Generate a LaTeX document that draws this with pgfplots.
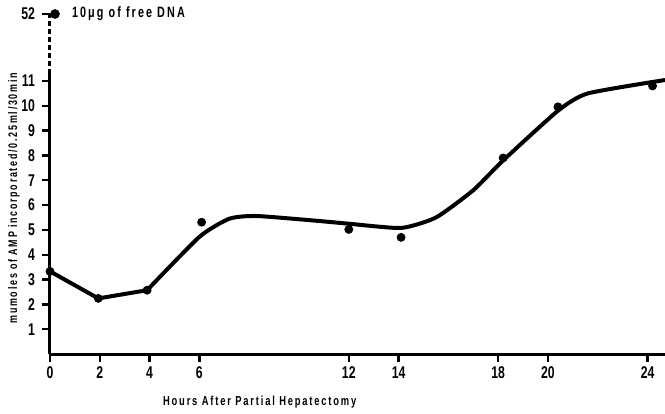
\documentclass[border=0pt]{standalone}
\usepackage{pgfplots}
\pgfplotsset{compat=1.18}
\usepackage{fontspec}
\setmainfont{Liberation Sans}[FakeStretch=0.72]
\newfontfamily\lsfont{Liberation Sans}[FakeStretch=0.72, LetterSpace=14]
\begin{document}
\begin{tikzpicture}
\begin{axis}[
  name=main, scale only axis, width=307.5pt, height=170pt,
  xmin=0, xmax=24.7, ymin=0, ymax=13.7,
  axis x line=bottom, axis y line=left,
  axis line style={-, line width=1.5pt},
  y axis line style={draw=none},
  xtick={0,2,4,6,12,14,18,20,24},
  ytick={1,2,3,4,5,6,7,8,9,10,11,13.7},
  yticklabels={1,2,3,4,5,6,7,8,9,10,11,52},
  tick style={line width=1.2pt, black},
  major tick length=4pt,
  tick align=outside,
  tick label style={font=\bfseries\fontsize{8.5}{9}\selectfont},
  xticklabel style={yshift=1pt},
  /pgf/number format/assume math mode=true,
  xlabel={Hours After Partial Hepatectomy},
  xlabel style={at={(axis description cs:0.341,0)}, anchor=center, yshift=-24pt,
    font=\lsfont\bfseries\fontsize{6.5}{7}\selectfont},
  ylabel={mumoles of AMP incorporated/0.25ml/30min},
  ylabel style={at={(axis description cs:-0.0585,0.458)}, anchor=center,
    font=\lsfont\bfseries\fontsize{6.2}{7}\selectfont},
  clip=false,
]
\draw[line width=1.5pt] (axis cs:0,0) -- (axis cs:0,11.3);
\draw[line width=1.5pt, dash pattern=on 2.5pt off 1.5pt] (axis cs:0,11.3) -- (axis cs:0,13.7);
\addplot[line width=2pt, line join=round] coordinates {
  (0,3.33) (1.94,2.24) (3.9,2.57)};
\addplot[line width=2pt, smooth, tension=0.35] coordinates {
  (3.9,2.57) (6.0,4.72) (7.2,5.45) (8.3,5.56) (10.8,5.36)
  (12,5.25) (14.1,5.08) (15.5,5.5) (17,6.6) (18.2,7.8) (20.4,9.8) (21.6,10.5) (24.7,11.04)};
\addplot[only marks, mark=*, mark size=2pt] coordinates {
  (0,3.33) (1.94,2.24) (3.9,2.57) (6.09,5.31) (12,5.02) (14.1,4.7) (18.2,7.9) (20.4,9.96) (24.2,10.8)};
\addplot[only marks, mark=*, mark size=2.2pt] coordinates {(0.2,13.7)};
\node[anchor=west, font=\lsfont\bfseries\fontsize{7.5}{8}\selectfont] at (axis cs:0.6,13.7) {10μg of free DNA};
\end{axis}
\pgfresetboundingbox
\path ([shift={(-25pt,-29.5pt)}]main.south west) rectangle ([shift={(0pt,7pt)}]main.north east);
\end{tikzpicture}
\end{document}
